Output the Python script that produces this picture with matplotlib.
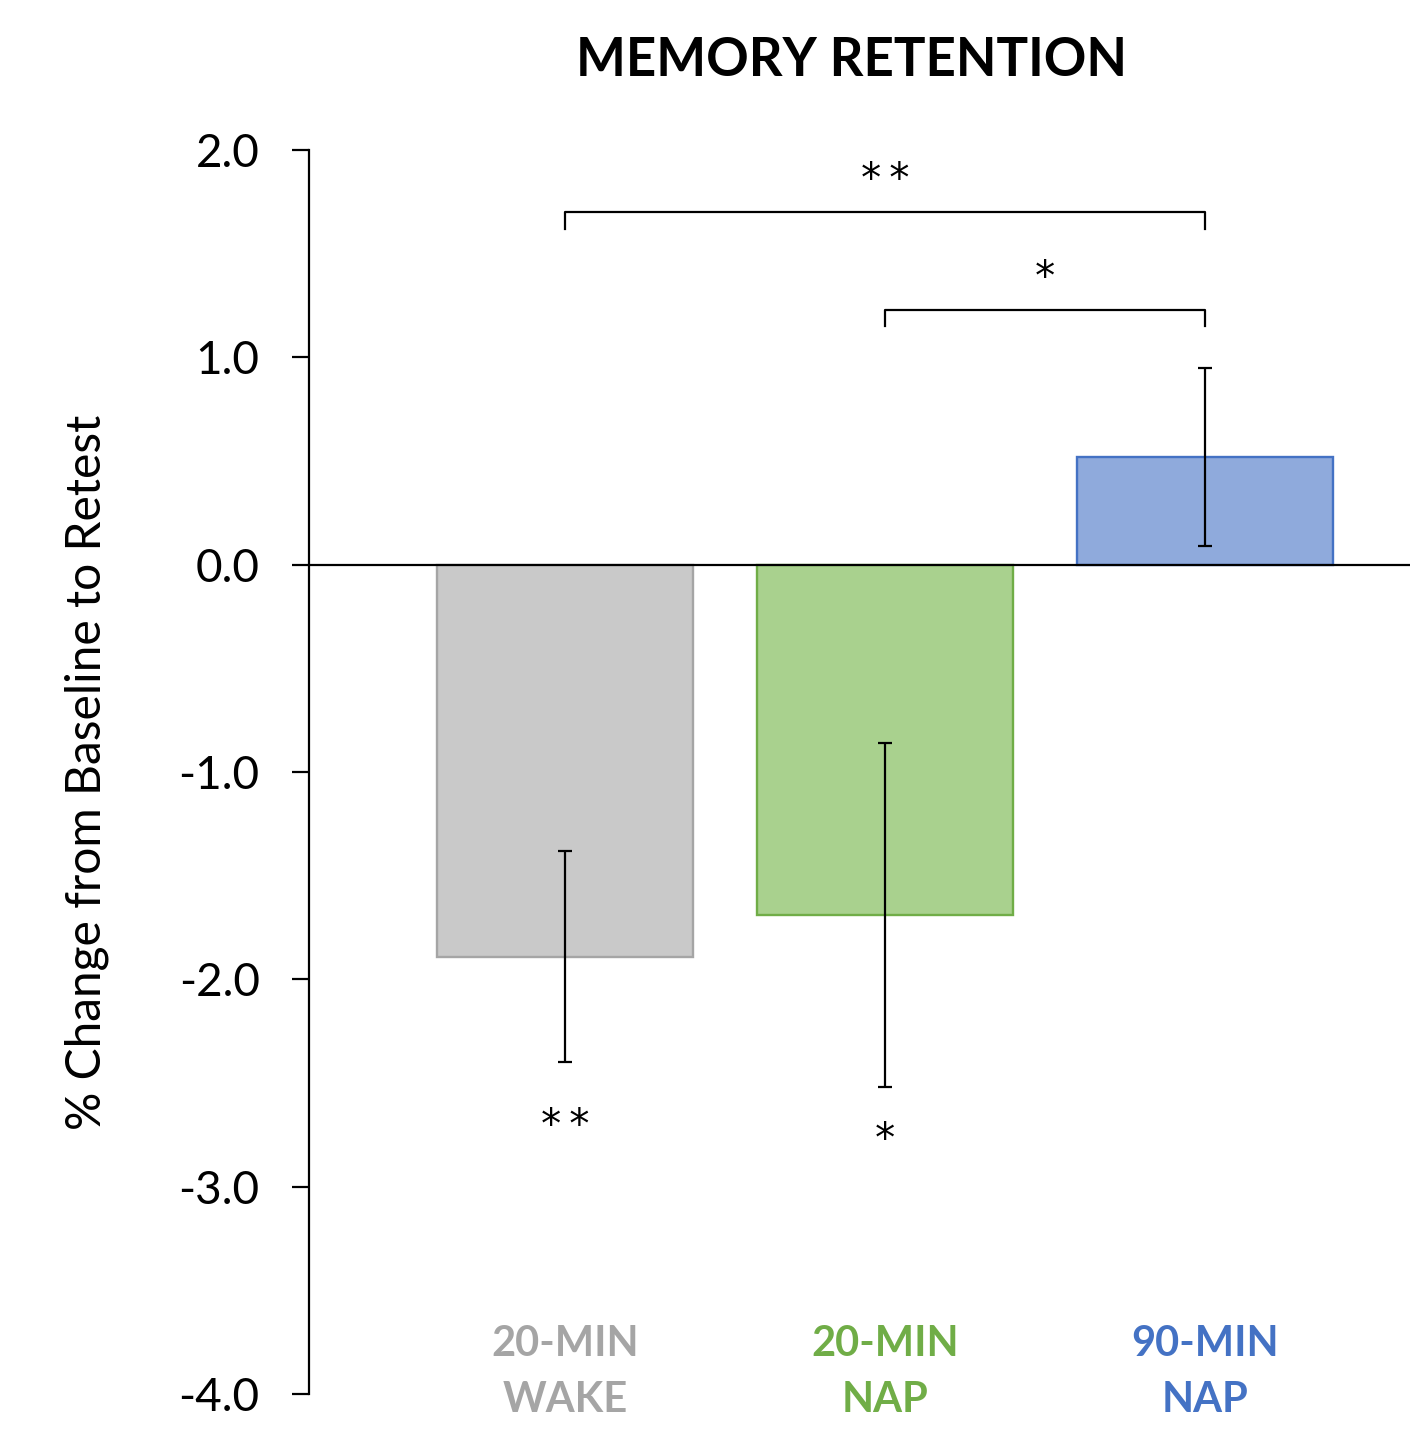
import numpy as np
import matplotlib.pyplot as plt

plt.rcParams['font.family'] = ['Lato', 'DejaVu Sans']

# data
groups = ['20-MIN\nWAKE', '20-MIN\nNAP', '90-MIN\nNAP']
means = [-1.89, -1.69, 0.52]
sems = [0.51, 0.83, 0.43]
fills = ['#C9C9C9', '#A9D18E', '#8FAADC']
edges = ['#A5A5A5', '#70AD47', '#4472C4']
bar_stars = ['**', '*', '']
bar_star_y = [-2.71, -2.78, None]
# comparisons: (left group, right group, bracket height, label)
comparisons = [(0, 2, 1.70, '**'), (1, 2, 1.23, '*')]

star_font = dict(family='DejaVu Sans', fontsize=29, color='black')


def stars(s):
    # spread the asterisks a little, like the original
    return '\u2009'.join(s)


fig = plt.figure(figsize=(14.1, 14.34), dpi=100)
ax = fig.add_axes([0.2191, 0.0279, 0.7809, 0.8675])

x = np.arange(len(groups))
ax.bar(x, means, width=0.8, color=fills, edgecolor=edges, linewidth=1.7, zorder=2)
ax.errorbar(x, means, yerr=sems, fmt='none', ecolor='black', elinewidth=1.6,
            capsize=5, capthick=1.6, zorder=3)
ax.axhline(0, color='black', lw=1.6, zorder=4)

# stars under the bars
for i, s in enumerate(bar_stars):
    if s:
        ax.text(x[i], bar_star_y[i], stars(s), ha='center', va='center',
                **star_font)

# brackets
for a, b, h, s in comparisons:
    ax.plot([x[a], x[a], x[b], x[b]], [h - 0.08, h, h, h - 0.08],
            color='black', lw=1.6)
    ax.text((x[a] + x[b]) / 2, h + 0.15, stars(s), ha='center', va='center',
            **star_font)

# category labels in group colours
for i, g in enumerate(groups):
    top, bottom = g.split('\n')
    ax.text(x[i], -3.76, top, ha='center', va='center', fontsize=30,
            fontweight='bold', color=edges[i])
    ax.text(x[i], -4.03, bottom, ha='center', va='center', fontsize=30,
            fontweight='bold', color=edges[i], clip_on=False)

ax.set_xlim(-0.8, 2.64)
ax.set_ylim(-4.0, 2.0)
ticks = np.arange(-4, 2.1, 1.0)
ax.set_yticks(ticks)
ax.set_yticklabels([f'{v:.1f}' for v in ticks])
ax.set_xticks([])
ax.tick_params(axis='y', labelsize=33, length=12.5, width=1.6, pad=23)
for side in ['top', 'right', 'bottom']:
    ax.spines[side].set_visible(False)
ax.spines['left'].set_linewidth(1.6)

ax.set_ylabel('% Change from Baseline to Retest', fontsize=34.5, labelpad=50)
fig.text(0.604, 0.958, 'MEMORY RETENTION', ha='center', va='center',
         fontsize=38, fontweight='bold')

fig.savefig('out.png', dpi=100)
